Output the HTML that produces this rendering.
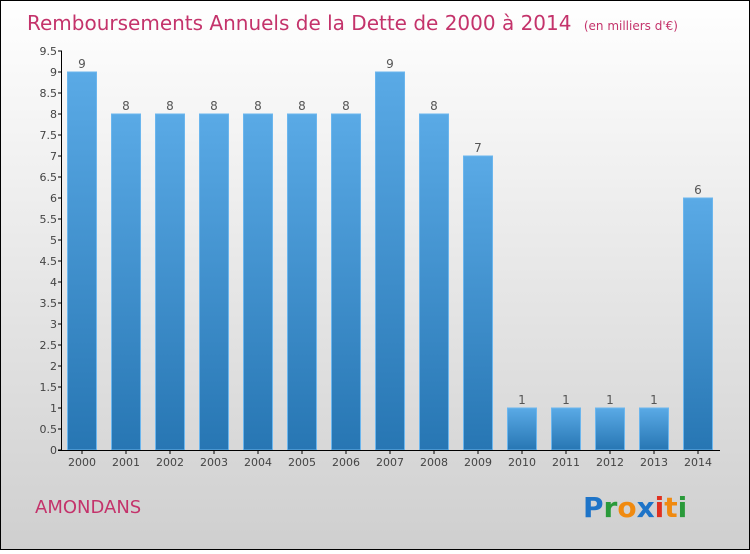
<!DOCTYPE html>
<html><head><meta charset="utf-8"><style>
body{margin:0;width:750px;height:550px;overflow:hidden;font-family:"DejaVu Sans","Liberation Sans",sans-serif}
</style></head><body>
<svg id="c" width="750" height="550" xmlns="http://www.w3.org/2000/svg">
<defs>
<linearGradient id="bg" x1="0" y1="0" x2="0" y2="1"><stop offset="0" stop-color="#ffffff"/><stop offset="1" stop-color="#cfcfcf"/></linearGradient>
<linearGradient id="bar" x1="0" y1="0" x2="0" y2="1"><stop offset="0" stop-color="#5aaae6"/><stop offset="1" stop-color="#2776b3"/></linearGradient>
</defs>
<rect x="0.5" y="0.5" width="749" height="549" fill="url(#bg)" stroke="#000"/>
<text x="27" y="30" font-size="20" fill="#c4336b">Remboursements Annuels de la Dette de 2000 à 2014 <tspan font-size="12" dx="6">(en milliers d'€)</tspan></text>
<text x="35" y="513" font-size="18" fill="#c4336b">AMONDANS</text>
<g font-size="28" font-weight="bold" font-family="'DejaVu Sans',sans-serif">
<text x="583" y="517"><tspan fill="#1e74c8">P</tspan><tspan fill="#2a9a3a">r</tspan><tspan fill="#f08a10">o</tspan><tspan fill="#1e74c8">x</tspan><tspan fill="#e03020">i</tspan><tspan fill="#f08a10">t</tspan><tspan fill="#2a9a3a">i</tspan></text>
</g>
<g id="plot"></g>
</svg>
<script>
const years=["2000","2001","2002","2003","2004","2005","2006","2007","2008","2009","2010","2011","2012","2013","2014"];
const values=[9,8,8,8,8,8,8,9,8,7,1,1,1,1,6];
const ticks=[0,0.5,1,1.5,2,2.5,3,3.5,4,4.5,5,5.5,6,6.5,7,7.5,8,8.5,9,9.5];
const NS="http://www.w3.org/2000/svg";
const g=document.getElementById('plot');
const y=v=>450-v*42;
const x=i=>82+i*44;
function mk(t,a){const e=document.createElementNS(NS,t);for(const k in a)e.setAttribute(k,a[k]);g.appendChild(e);return e;}
values.forEach((v,i)=>{
 const r=mk('rect',{x:x(i)-14.5,y:y(v),width:29,height:450-y(v),fill:'url(#bar)',stroke:'#6bb6ee','stroke-width':1});
 
 
 const t=mk('text',{x:x(i),y:y(v)-4,'text-anchor':'middle','font-size':12,fill:'#555'});t.textContent=v;
 
 
 const xl=mk('text',{x:x(i),y:466,'text-anchor':'middle','font-size':11,fill:'#444'});xl.textContent=years[i];
 
 
 const tk=mk('line',{x1:x(i),x2:x(i),y1:450,y2:454,stroke:'#000'});
 
 
});
ticks.forEach(v=>{
 const l=mk('line',{x1:58,x2:62,y1:y(v),y2:y(v),stroke:'#000'});
 
 
 const t=mk('text',{x:57,y:y(v)+4,'text-anchor':'end','font-size':11,fill:'#444'});t.textContent=v;
 
 
});
const ya=mk('line',{x1:61.5,x2:61.5,y1:y(9.5),y2:450,stroke:'#000'});


const xa=mk('line',{x1:58,x2:720,y1:450.5,y2:450.5,stroke:'#000'});


</script>
</body></html>
